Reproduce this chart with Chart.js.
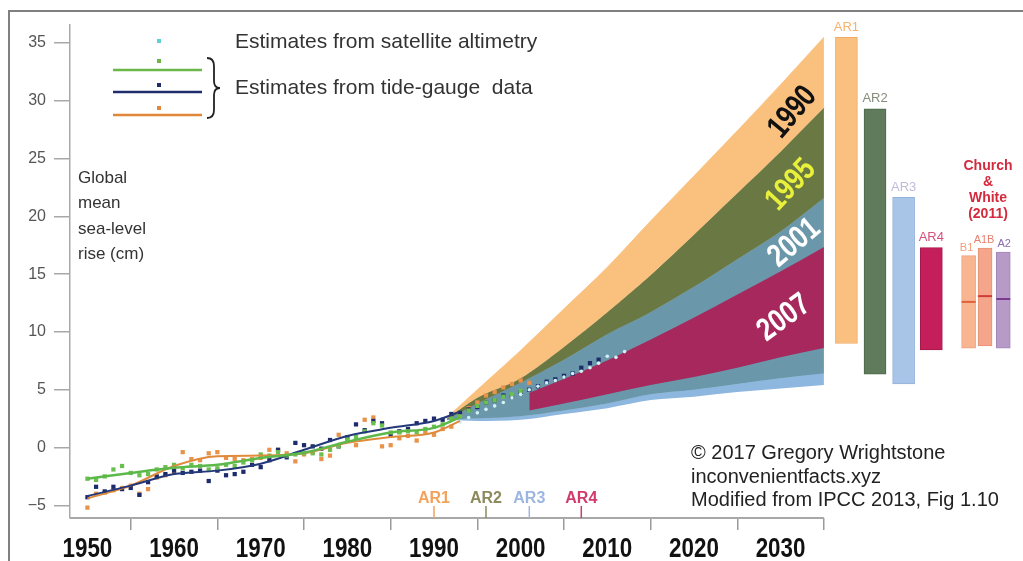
<!DOCTYPE html>
<html>
<head>
<meta charset="utf-8">
<title>Global mean sea-level rise</title>
<script src="https://cdn.jsdelivr.net/npm/chart.js@4.4.1/dist/chart.umd.min.js"></script>
<style>
  html, body { margin: 0; padding: 0; background: #fff; }
  #wrap { width: 1023px; height: 561px; position: relative; }
</style>
</head>
<body>
<div id="wrap"><canvas id="chart"></canvas></div>
<script>
// ── Data ────────────────────────────────────────────────────────────────
var xTicks = [1950, 1960, 1970, 1980, 1990, 2000, 2010, 2020, 2030];
var yTicks = [-5, 0, 5, 10, 15, 20, 25, 30, 35];

// tide-gauge estimates (cm), one value per year 1950-2009
var gaugeYears = [
  1950, 1951, 1952, 1953, 1954, 1955, 1956, 1957, 1958, 1959,
  1960, 1961, 1962, 1963, 1964, 1965, 1966, 1967, 1968, 1969,
  1970, 1971, 1972, 1973, 1974, 1975, 1976, 1977, 1978, 1979,
  1980, 1981, 1982, 1983, 1984, 1985, 1986, 1987, 1988, 1989,
  1990, 1991, 1992, 1993, 1994, 1995, 1996, 1997, 1998, 1999,
  2000, 2001, 2002, 2003, 2004, 2005, 2006, 2007, 2008, 2009
];
var gaugeGreen = [
  -2.7, -2.8, -2.5, -1.9, -1.6, -2.2, -2.4, -2.3, -1.9, -1.7,
  -1.5, -1.8, -1.5, -1.6, -1.9, -1.8, -1.5, -1.6, -1.3, -1.1,
  -0.6, -0.7, -0.4, -0.7, -0.6, -0.5, -0.5, -0.6, -0.2, 0.1,
  0.7, 0.9, 1.4, 2.1, 1.9, 1.3, 1.3, 1.4, 1.3, 1.6,
  1.8, 2.0, 2.5, 2.7, 3.2, 3.6, 3.9, 4.1, 4.4, 4.6,
  4.9, null, null, null, null, null, null, null, null, null
];
var gaugeNavy = [
  -4.3, -3.4, -3.8, -3.4, -3.6, -3.5, -4.1, -3.0, -2.5, -2.3,
  -2.0, -2.2, -2.1, -2.0, -2.9, -2.0, -2.4, -2.3, -2.1, -1.5,
  -1.7, -1.1, -0.2, -0.85, 0.4, 0.2, 0.1, -0.1, 0.65, 0.1,
  0.9, 2.0, 1.5, 2.3, 2.1, 1.1, 1.4, 1.6, 2.1, 2.3,
  2.5, 2.4, 2.9, 3.0, 3.3, 3.5, 3.9, 4.1, 4.5, 4.4,
  4.8, 5.0, 5.3, 5.7, 5.9, 6.2, 6.4, 6.9, 7.3, 7.6
];
var gaugeOrange = [
  -5.2, -4.0, -3.9, -3.7, -3.5, -3.3, -4.0, -3.6, -2.6, -2.4,
  -2.2, -0.4, -1.0, -1.1, -0.5, -0.4, -0.9, -1.0, -1.1, -1.0,
  -0.9, -0.2, -0.2, -0.5, -1.2, -0.6, -0.4, -1.0, -0.7, 1.1,
  0.6, 0.2, 2.4, 2.6, 0.1, 0.2, 0.8, 1.0, 0.6, 1.3,
  1.1, 1.6, 1.8, 2.8, 3.4, 3.9, 4.5, 4.8, 5.2, 5.5,
  5.8, 5.6, null, null, null, null, null, null, null, null
];

// satellite altimetry (cm)
var satYears = [1993, 1994, 1995, 1996, 1997, 1998, 1999, 2000, 2001, 2002,
                2003, 2004, 2005, 2006, 2007, 2008, 2009, 2010, 2011, 2012];
var satValues = [2.2, 2.6, 3.0, 3.3, 3.6, 3.9, 4.3, 4.6, 5.0, 5.3,
                 5.6, 5.8, 6.1, 6.4, 6.6, 6.9, 7.3, 7.9, 7.8, 8.3];

// smoothed tide-gauge curves
var trendYears = [1950, 1955, 1960, 1965, 1970, 1975, 1980, 1985, 1990, 1993];
var trendGreen = [-2.7, -2.2, -1.75, -1.5, -0.9, -0.45, 0.5, 1.3, 1.7, 2.6];
var trendNavy = [-4.2, -3.3, -2.3, -2.0, -1.4, -0.2, 1.0, 1.7, 2.3, 3.1];
var trendOrange = [-4.4, -3.3, -1.6, -0.75, -0.7, -0.5, 0.4, 0.9, 1.3, 2.3];

// projection envelopes (cm)
var fanYears = [1991.5, 1995, 2000, 2005, 2010, 2015, 2020, 2025, 2030, 2035];
var far1990Top = [2.6, 5.0, 8.4, 12.0, 15.6, 19.6, 23.5, 27.4, 31.4, 35.5];
var sar1995Top = [2.5, 4.3, 6.0, 8.7, 11.7, 14.9, 18.4, 22.0, 25.6, 29.4];
var tar2001Top = [2.4, 3.8, 5.6, 7.6, 9.8, 11.7, 13.9, 16.3, 18.7, 21.6];
var tar2001Mid = [2.4, 2.5, 2.7, 3.2, 3.8, 4.6, 5.0, 5.5, 6.0, 6.4];
var tar2001Low = [2.4, 2.3, 2.4, 2.9, 3.4, 4.1, 4.4, 4.8, 5.1, 5.4];
var ar4Years = [2001, 2005, 2010, 2015, 2020, 2025, 2030, 2035];
var ar42007Top = [4.7, 5.9, 7.5, 9.3, 11.2, 13.2, 15.2, 17.3];
var ar42007Low = [3.2, 3.8, 4.6, 5.4, 6.1, 6.9, 7.8, 8.6];

// range bars to the right of the fan
var arNames = ['AR1', 'AR2', 'AR3', 'AR4'];
var arBarX = [2037.6, 2040.9, 2044.2, 2047.4];
var arLow = [9.0, 6.35, 5.5, 8.45];
var arHigh = [35.5, 29.3, 21.65, 17.3];
var cwNames = ['B1', 'A1B', 'A2'];
var cwBarX = [2051.7, 2053.6, 2055.7];
var cwLow = [8.6, 8.8, 8.6];
var cwHigh = [16.6, 17.25, 16.9];
var cwMid = [12.6, 13.1, 12.85];

// assessment report years marked on the time axis
var arYears = [1990, 1996, 2001, 2007];

// ── Styling ─────────────────────────────────────────────────────────────
var SANS = '"Liberation Sans", Arial, sans-serif';

var arBarFill = ['#f9c07f', '#5f7b5b', '#a8c5e8', '#c41f5a'];
var arBarEdge = ['#f0a964', '#4d684a', '#92b2da', '#a3184a'];
var arLabelColor = ['#f5b270', '#858c7a', '#c2badb', '#d6507c'];
var arAxisColor = ['#f3a25c', '#8b8a5d', '#9db6e0', '#d23a6e'];
var cwBarFill = ['#f8b591', '#f4a58a', '#b89ac9'];
var cwBarEdge = ['#eea07a', '#e89074', '#a385b8'];
var cwMidColor = ['#e0603a', '#d03c3c', '#7a3a90'];
var cwLabelColor = ['#f0a07c', '#e8806e', '#8d6cb0'];

var bandLabels = [
  { text: '1990', x: 2031.4, y: 29.0, angle: -50, color: '#111' },
  { text: '1995', x: 2031.2, y: 22.7, angle: -47, color: '#e8f03a' },
  { text: '2001', x: 2031.6, y: 17.7, angle: -40, color: '#ffffff' },
  { text: '2007', x: 2030.4, y: 11.2, angle: -36, color: '#ffffff' }
];

function pts(xs, ys) {
  return xs.map(function(x, i) { return { x: x, y: ys[i] }; });
}

function band(xs, ys, color, order, fill) {
  return {
    type: 'line',
    data: pts(xs, ys),
    borderColor: color,
    borderWidth: fill ? 0.8 : 0,
    backgroundColor: color,
    fill: fill ? '+1' : false,
    pointRadius: 0,
    cubicInterpolationMode: 'monotone',
    order: order
  };
}

function trend(ys, color, width, order) {
  return {
    type: 'line',
    data: pts(trendYears, ys),
    borderColor: color,
    borderWidth: width,
    pointRadius: 0,
    fill: false,
    cubicInterpolationMode: 'monotone',
    order: order
  };
}

function squares(ys, color, order) {
  return {
    type: 'scatter',
    data: pts(gaugeYears, ys),
    pointStyle: 'rect',
    pointRadius: 3,
    backgroundColor: color,
    borderWidth: 0,
    order: order
  };
}

// condensed text: the narrow face is not installed, so squeeze horizontally
function narrowText(ctx, text, px, py, angle, squeeze) {
  ctx.save();
  ctx.translate(px, py);
  ctx.rotate((angle || 0) * Math.PI / 180);
  ctx.scale(squeeze, 1);
  ctx.fillText(text, 0, 0);
  ctx.restore();
}

// ── Decorations: frame, legend, notes, labels ───────────────────────────
var decorations = {
  id: 'decorations',
  beforeDraw: function(chart) {
    var ctx = chart.ctx;
    ctx.save();
    ctx.fillStyle = '#fff';
    ctx.fillRect(0, 0, chart.width, chart.height);
    ctx.strokeStyle = '#808080';
    ctx.lineWidth = 2;
    ctx.beginPath();
    ctx.moveTo(9, chart.height);
    ctx.lineTo(9, 11);
    ctx.lineTo(chart.width, 11);
    ctx.stroke();
    ctx.restore();
  },
  afterDraw: function(chart) {
    var ctx = chart.ctx;
    var x = chart.scales.x, y = chart.scales.y;
    var base = chart.chartArea.bottom;
    ctx.save();

    // time axis line stops at the end of the projections
    ctx.strokeStyle = '#a8a8a8';
    ctx.lineWidth = 2;
    ctx.beginPath();
    ctx.moveTo(chart.chartArea.left, base);
    ctx.lineTo(x.getPixelForValue(2035), base);
    ctx.stroke();

    // year labels of the time axis
    ctx.textAlign = 'center';
    ctx.textBaseline = 'middle';
    ctx.fillStyle = '#111';
    ctx.font = 'bold 28px ' + SANS;
    xTicks.forEach(function(v) {
      narrowText(ctx, String(v), x.getPixelForValue(v), base + 31, 0, 0.8);
    });

    // AR markers on the time axis
    ctx.font = 'bold 16px ' + SANS;
    arYears.forEach(function(yr, i) {
      var px = x.getPixelForValue(yr);
      ctx.strokeStyle = arAxisColor[i];
      ctx.lineWidth = 1.5;
      ctx.beginPath();
      ctx.moveTo(px, base - 12);
      ctx.lineTo(px, base);
      ctx.stroke();
      ctx.fillStyle = arAxisColor[i];
      ctx.fillText(arNames[i], px, base - 19);
    });

    // labels over the range bars
    ctx.font = '13px ' + SANS;
    arNames.forEach(function(name, i) {
      ctx.fillStyle = arLabelColor[i];
      ctx.fillText(name, x.getPixelForValue(arBarX[i]), y.getPixelForValue(arHigh[i]) - 10);
    });
    ctx.font = '11px ' + SANS;
    var cwShift = [-2, -1, 1];
    cwNames.forEach(function(name, i) {
      ctx.fillStyle = cwLabelColor[i];
      ctx.fillText(name, x.getPixelForValue(cwBarX[i]) + cwShift[i], y.getPixelForValue(cwHigh[i]) - 8);
    });
    ctx.font = 'bold 14px ' + SANS;
    ctx.fillStyle = '#d42a3c';
    ['Church', '&', 'White', '(2011)'].forEach(function(t, i) {
      ctx.fillText(t, 988, 166 + i * 16);
    });

    // rotated year labels inside the envelopes
    ctx.font = 'bold 32px ' + SANS;
    bandLabels.forEach(function(b) {
      ctx.fillStyle = b.color;
      narrowText(ctx, b.text, x.getPixelForValue(b.x), y.getPixelForValue(b.y), b.angle, 0.8);
    });

    // legend
    ctx.fillStyle = '#5ecfd2';
    ctx.fillRect(157, 39, 4, 4);
    var legendRows = [
      { dot: 61, line: 70, color: '#6bb84a' },
      { dot: 85, line: 92, color: '#1f2d6b' },
      { dot: 108, line: 115, color: '#e0873a' }
    ];
    legendRows.forEach(function(r) {
      ctx.fillStyle = r.color;
      ctx.fillRect(157, r.dot - 2, 4, 4);
      ctx.strokeStyle = r.color;
      ctx.lineWidth = 2.5;
      ctx.beginPath();
      ctx.moveTo(113, r.line);
      ctx.lineTo(202, r.line);
      ctx.stroke();
    });
    ctx.strokeStyle = '#222';
    ctx.lineWidth = 1.8;
    ctx.beginPath();
    ctx.moveTo(207, 58);
    ctx.quadraticCurveTo(214, 58, 214, 66);
    ctx.lineTo(214, 81);
    ctx.quadraticCurveTo(214, 88, 220, 88);
    ctx.quadraticCurveTo(214, 88, 214, 95);
    ctx.lineTo(214, 110);
    ctx.quadraticCurveTo(214, 118, 207, 118);
    ctx.stroke();

    ctx.textAlign = 'left';
    ctx.fillStyle = '#333';
    ctx.font = '21px ' + SANS;
    ctx.fillText('Estimates from satellite altimetry', 235, 42);
    ctx.fillText('Estimates from tide-gauge  data', 235, 88);

    // axis title
    ctx.font = '17px ' + SANS;
    ['Global', 'mean', 'sea-level', 'rise (cm)'].forEach(function(t, i) {
      ctx.fillText(t, 78, 178 + i * 25.5);
    });

    // credit
    ctx.fillStyle = '#222';
    ctx.font = '20px ' + SANS;
    ctx.fillText('\u00a9 2017 Gregory Wrightstone', 691, 453);
    ctx.fillText('inconvenientfacts.xyz', 691, 477);
    ctx.fillText('Modified from IPCC 2013, Fig 1.10', 691, 500);

    ctx.restore();
  }
};

// ── Chart ───────────────────────────────────────────────────────────────
Chart.defaults.font.family = SANS;

var datasets = [
  trend(trendGreen, '#5db84a', 2.5, 0),
  trend(trendNavy, '#23397a', 2, 1),
  trend(trendOrange, '#e08a3c', 2, 2),
  {
    type: 'scatter',
    data: pts(satYears, satValues),
    pointStyle: 'circle',
    pointRadius: 1.8,
    backgroundColor: '#d2f1f4',
    borderWidth: 0,
    order: 3
  },
  squares(gaugeGreen, '#6bbf4e', 4),
  squares(gaugeNavy, '#1d2b6a', 5),
  squares(gaugeOrange, '#e8924a', 6),
  {
    type: 'scatter',
    data: pts(cwBarX, cwMid),
    pointStyle: 'line',
    pointRadius: 7,
    borderColor: cwMidColor,
    pointBorderColor: cwMidColor,
    pointBorderWidth: 2,
    order: 7
  },
  {
    type: 'bar',
    data: arBarX.map(function(v, i) { return { x: v, y: [arLow[i], arHigh[i]] }; }),
    backgroundColor: arBarFill,
    borderColor: arBarEdge,
    borderWidth: 1,
    borderSkipped: false,
    barThickness: 22,
    grouped: false,
    order: 8
  },
  {
    type: 'bar',
    data: cwBarX.map(function(v, i) { return { x: v, y: [cwLow[i], cwHigh[i]] }; }),
    backgroundColor: cwBarFill,
    borderColor: cwBarEdge,
    borderWidth: 1,
    borderSkipped: false,
    barThickness: 14,
    grouped: false,
    order: 9
  },
  band(ar4Years, ar42007Top, '#a6285c', 20, true),
  band(ar4Years, ar42007Low, '#a6285c', 21, false),
  band(fanYears, far1990Top, '#f9c07e', 30, true),
  band(fanYears, sar1995Top, '#6a7844', 31, true),
  band(fanYears, tar2001Top, '#6b97ab', 32, true),
  band(fanYears, tar2001Mid, '#8db7df', 33, true),
  band(fanYears, tar2001Low, '#8db7df', 34, false)
];

new Chart(document.getElementById('chart'), {
  type: 'scatter',
  data: { datasets: datasets },
  plugins: [decorations],
  options: {
    responsive: true,
    maintainAspectRatio: false,
    animation: false,
    events: [],
    layout: { padding: { top: 25, right: 3, left: 0, bottom: 0 } },
    plugins: {
      legend: { display: false },
      tooltip: { enabled: false }
    },
    scales: {
      x: {
        type: 'linear',
        min: 1947.99,
        max: 2056.94,
        offset: false,
        afterBuildTicks: function(s) { s.ticks = xTicks.map(function(v) { return { value: v }; }); },
        afterFit: function(s) { s.height = 43; },
        border: { display: false },
        grid: { drawOnChartArea: false, tickLength: 12, color: '#9a9a9a', lineWidth: 1.5 },
        ticks: { display: false }
      },
      y: {
        type: 'linear',
        min: -6.1,
        max: 36.56,
        afterBuildTicks: function(s) { s.ticks = yTicks.map(function(v) { return { value: v }; }); },
        afterFit: function(s) { s.width = 70; },
        border: { display: true, color: '#a8a8a8', width: 1.5 },
        grid: { drawOnChartArea: false, tickLength: 16, color: '#a8a8a8', lineWidth: 1.5 },
        ticks: {
          color: '#555',
          font: { size: 16 },
          padding: 8,
          callback: function(v) { return v < 0 ? '\u2212' + Math.abs(v) : String(v); }
        }
      }
    }
  }
});
</script>
</body>
</html>
